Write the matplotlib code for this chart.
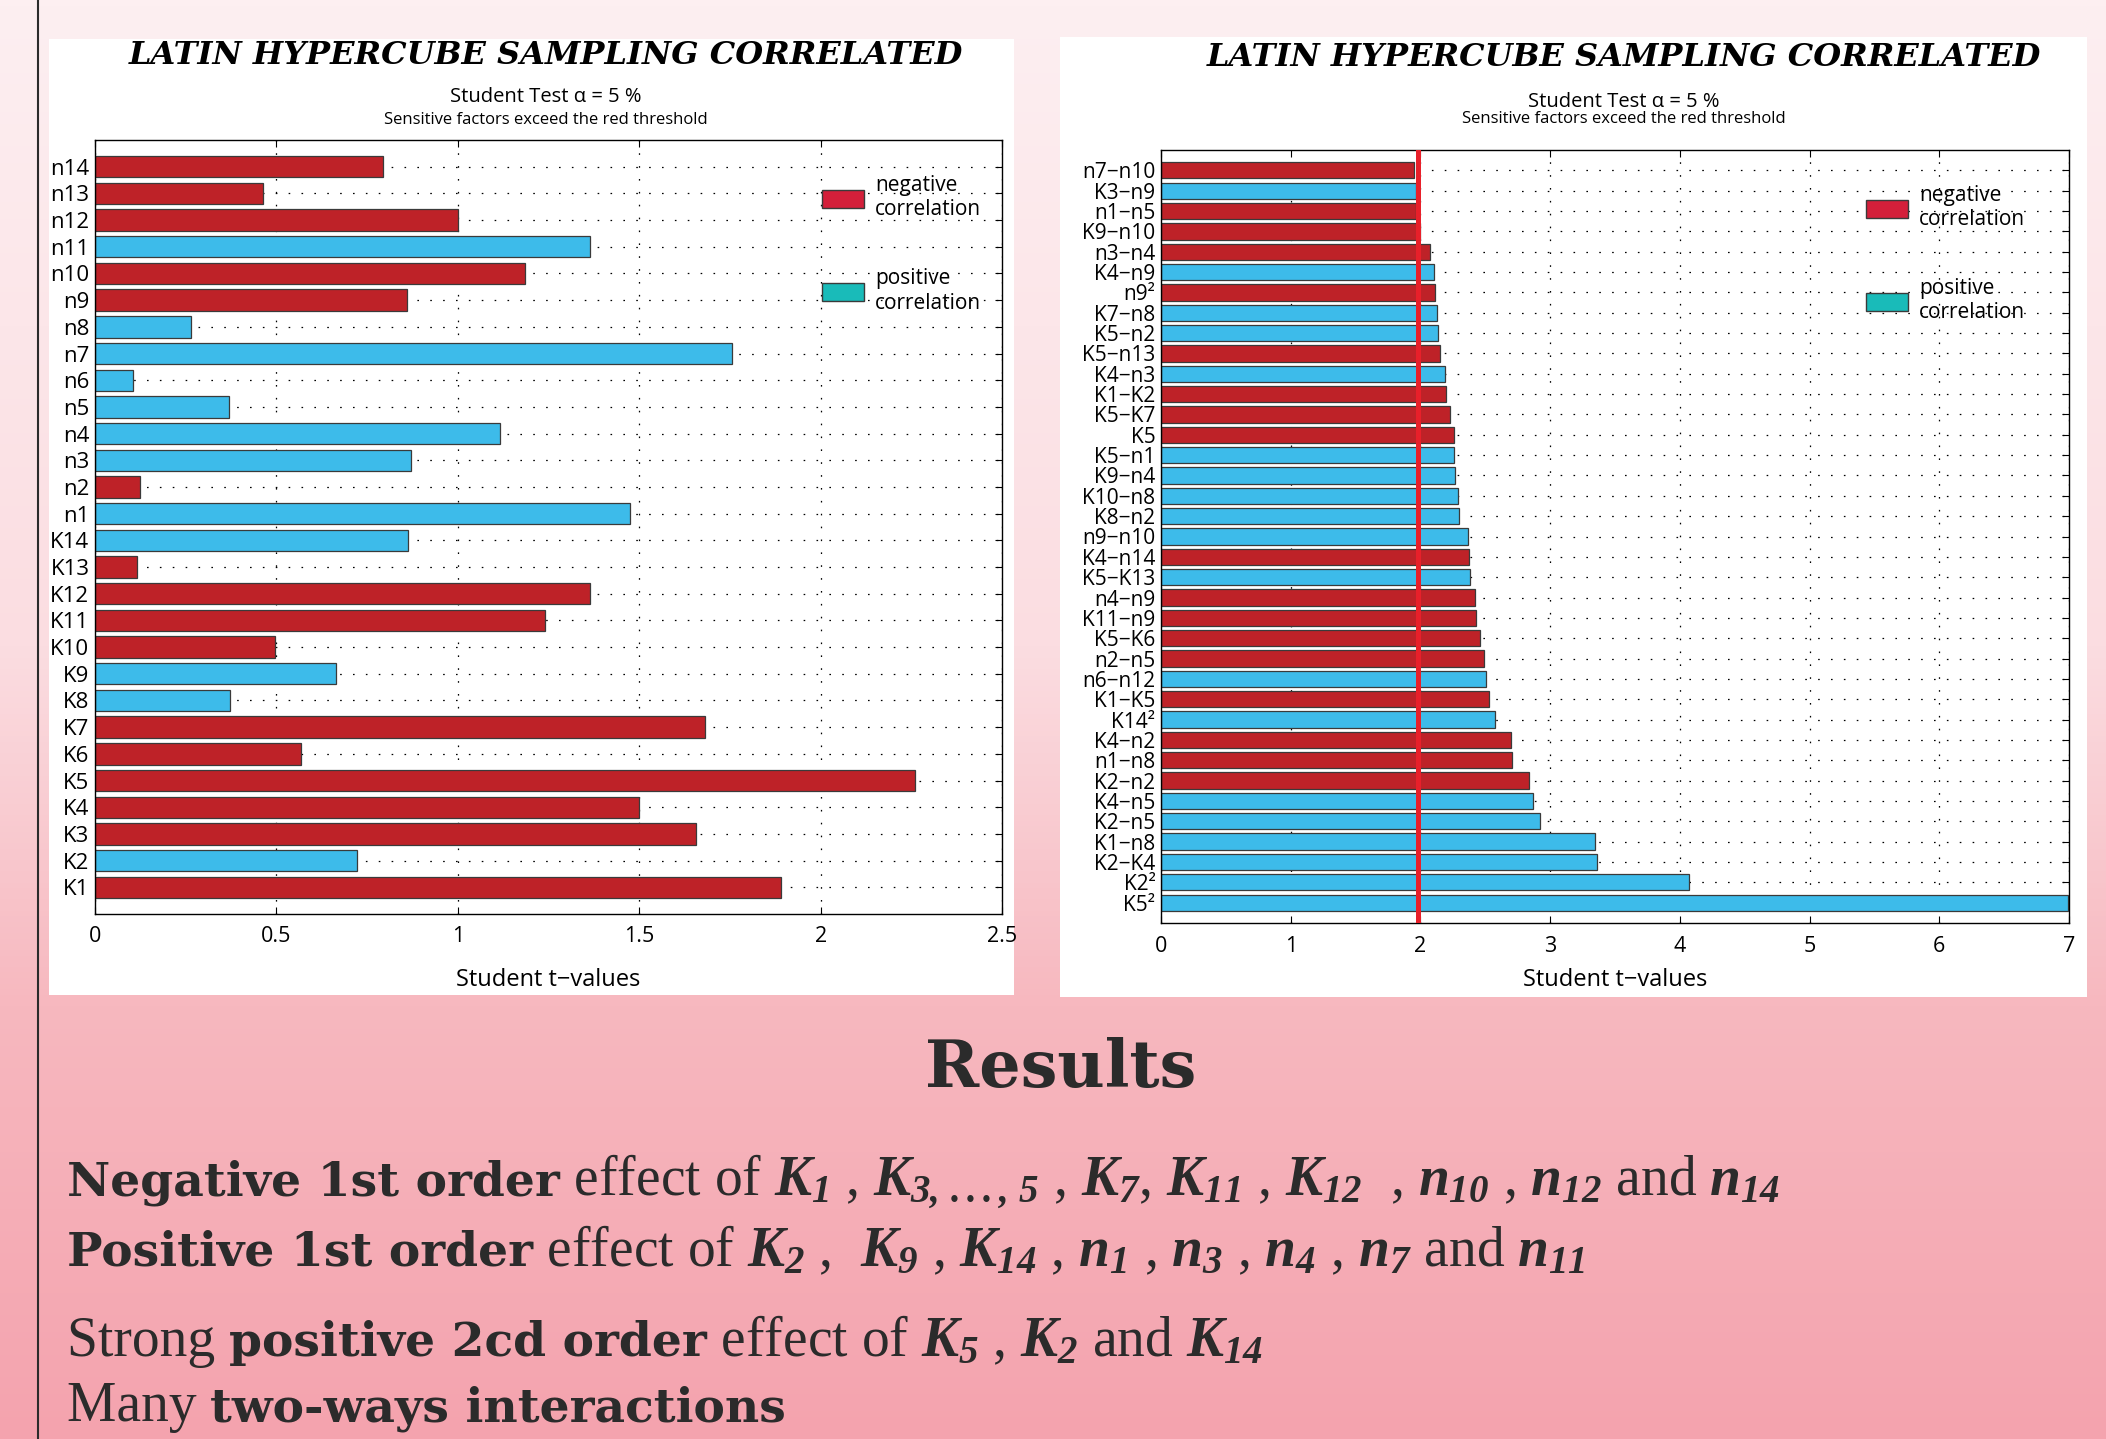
import matplotlib.pyplot as plt
import numpy as np
from matplotlib.patches import Rectangle, Patch
from matplotlib.lines import Line2D
from matplotlib.colors import LinearSegmentedColormap

plt.rcParams['font.family'] = ['Open Sans', 'DejaVu Sans']
plt.rcParams['mathtext.fontset'] = 'custom'
# digits in subscripts come from the rm slot, keep them italic like the letters
plt.rcParams['mathtext.rm'] = 'Liberation Serif:italic:bold'
plt.rcParams['mathtext.it'] = 'Liberation Serif:italic:bold'
plt.rcParams['mathtext.bf'] = 'Liberation Serif:bold'

# first order factors, listed top to bottom
main_labels = ['n14', 'n13', 'n12', 'n11', 'n10', 'n9', 'n8', 'n7', 'n6', 'n5',
               'n4', 'n3', 'n2', 'n1', 'K14', 'K13', 'K12', 'K11', 'K10', 'K9',
               'K8', 'K7', 'K6', 'K5', 'K4', 'K3', 'K2', 'K1']
main_tvalues = [0.793, 0.464, 1.0, 1.364, 1.186, 0.86, 0.264, 1.756, 0.105, 0.368,
                1.115, 0.871, 0.123, 1.474, 0.864, 0.116, 1.364, 1.241, 0.497, 0.664,
                0.371, 1.682, 0.568, 2.26, 1.5, 1.656, 0.723, 1.892]
main_signs = ['neg', 'neg', 'neg', 'pos', 'neg', 'neg', 'pos', 'pos', 'pos', 'pos',
              'pos', 'pos', 'neg', 'pos', 'pos', 'neg', 'neg', 'neg', 'neg', 'pos',
              'pos', 'neg', 'neg', 'neg', 'neg', 'neg', 'pos', 'neg']

# interactions and quadratic terms, listed top to bottom
inter_labels = ['n7\u2212n10', 'K3\u2212n9', 'n1\u2212n5', 'K9\u2212n10', 'n3\u2212n4',
                'K4\u2212n9', 'n9\u00b2', 'K7\u2212n8', 'K5\u2212n2', 'K5\u2212n13',
                'K4\u2212n3', 'K1\u2212K2', 'K5\u2212K7', 'K5', 'K5\u2212n1',
                'K9\u2212n4', 'K10\u2212n8', 'K8\u2212n2', 'n9\u2212n10', 'K4\u2212n14',
                'K5\u2212K13', 'n4\u2212n9', 'K11\u2212n9', 'K5\u2212K6', 'n2\u2212n5',
                'n6\u2212n12', 'K1\u2212K5', 'K14\u00b2', 'K4\u2212n2', 'n1\u2212n8',
                'K2\u2212n2', 'K4\u2212n5', 'K2\u2212n5', 'K1\u2212n8', 'K2\u2212K4',
                'K2\u00b2', 'K5\u00b2']
inter_tvalues = [1.95, 1.964, 1.967, 1.995, 2.077, 2.105, 2.115, 2.128, 2.138, 2.149,
                 2.187, 2.197, 2.226, 2.256, 2.259, 2.267, 2.29, 2.295, 2.364, 2.377,
                 2.382, 2.418, 2.431, 2.462, 2.487, 2.505, 2.531, 2.572, 2.697, 2.705,
                 2.838, 2.864, 2.918, 3.349, 3.364, 4.073, 6.99]
inter_signs = ['neg', 'pos', 'neg', 'neg', 'neg', 'pos', 'neg', 'pos', 'pos', 'neg',
               'pos', 'neg', 'neg', 'neg', 'pos', 'pos', 'pos', 'pos', 'pos', 'neg',
               'pos', 'neg', 'neg', 'neg', 'neg', 'pos', 'neg', 'pos', 'neg', 'neg',
               'neg', 'pos', 'pos', 'pos', 'pos', 'pos', 'pos']

student_threshold = 1.98

bar_colors = {'neg': '#be2228', 'pos': '#3dbbea'}
legend_colors = {'neg': '#d41f3a', 'pos': '#19bbb9'}

W, H = 2106, 1439
fig = plt.figure(figsize=(W / 100, H / 100), dpi=100)

# pink gradient background
bg = fig.add_axes([0, 0, 1, 1], zorder=-10)
pink = LinearSegmentedColormap.from_list(
    'pink', [(0.0, '#fdeff1'), (0.45, '#fbdde1'), (0.7, '#f7b8bf'), (1.0, '#f4a3ae')])
bg.imshow(np.linspace(0, 1, 256).reshape(-1, 1), cmap=pink, aspect='auto',
          extent=[0, 1, 0, 1], origin='upper')
bg.axis('off')

fig.add_artist(Line2D([38 / W, 38 / W], [0, 1], transform=fig.transFigure,
                      color='#2b2b2b', lw=1.5))


def px_box(x0, y0, x1, y1):
    return (x0 / W, 1 - y1 / H, (x1 - x0) / W, (y1 - y0) / H)


for x0, y0, x1, y1 in [(49, 39, 1014, 995), (1060, 37, 2087, 997)]:
    bx, by, bw, bh = px_box(x0, y0, x1, y1)
    fig.add_artist(Rectangle((bx, by), bw, bh, transform=fig.transFigure,
                             facecolor='white', edgecolor='none', zorder=-5))


def draw_panel(rect, labels, values, signs, xmax, xticks, xticklabels,
               legend_anchor, label_size, xlabel_pad, threshold=None):
    ax = fig.add_axes(px_box(*rect))
    n = len(labels)
    ypos = np.arange(n, 0, -1)
    ax.barh(ypos, values, height=0.8, color=[bar_colors[s] for s in signs],
            edgecolor='#3a3a3a', linewidth=0.9, zorder=2)
    if threshold is not None:
        ax.axvline(threshold, color='#e8202a', lw=3.6, zorder=3)
    ax.set_xlim(0, xmax)
    ax.set_ylim(0, n + 1)
    ax.set_yticks(ypos)
    ax.set_yticklabels(labels, fontsize=label_size)
    ax.set_xticks(xticks)
    ax.set_xticklabels(xticklabels, fontsize=15.5)
    ax.tick_params(direction='in', top=True, right=True, length=5, width=0.8,
                   pad=9, colors='black')
    ax.tick_params(axis='y', pad=4)
    ax.grid(True, linestyle=(0, (1.3, 9)), color='black', lw=0.9)
    ax.set_axisbelow(True)
    for sp in ax.spines.values():
        sp.set_linewidth(1.0)
    ax.set_xlabel('Student t\u2212values', fontsize=17, labelpad=xlabel_pad)
    handles = [Patch(facecolor=legend_colors['neg'], edgecolor='#3a3a3a', lw=1.0,
                     label='negative\ncorrelation'),
               Patch(facecolor=legend_colors['pos'], edgecolor='#3a3a3a', lw=1.0,
                     label='positive\ncorrelation')]
    ax.legend(handles=handles, loc='upper left', bbox_to_anchor=legend_anchor,
              frameon=False, fontsize=15, handlelength=2.0, handleheight=0.95,
              labelspacing=2.3, handletextpad=0.55, borderpad=0)
    return ax


ax1 = draw_panel((95, 140, 1002, 914), main_labels, main_tvalues, main_signs,
                 2.5, [0, 0.5, 1, 1.5, 2, 2.5], ['0', '0.5', '1', '1.5', '2', '2.5'],
                 (0.79, 0.968), 16, 15, )
ax2 = draw_panel((1161, 150, 2069, 923), inter_labels, inter_tvalues, inter_signs,
                 7, range(8), [str(i) for i in range(8)],
                 (0.765, 0.968), 15, 8, threshold=student_threshold)

title = 'LATIN HYPERCUBE SAMPLING CORRELATED'
for cx, ty, s1y, s2y in [(546, 55, 97, 120), (1624, 58, 102, 119)]:
    fig.text(cx / W, 1 - ty / H, title, ha='center', va='center',
             family='DejaVu Serif', weight='heavy', style='italic', fontsize=23)
    fig.text(cx / W, 1 - s1y / H, 'Student Test \u03b1 = 5 %', ha='center', va='center',
             fontsize=14.5)
    fig.text(cx / W, 1 - s2y / H, 'Sensitive factors exceed the red threshold',
             ha='center', va='center', fontsize=12)

# results summary
fig.text(1061 / W, 1 - 1069 / H, 'Results', ha='center', va='center',
         family='DejaVu Serif', weight='heavy', fontsize=47, color='#2b2b2b')

regular = dict(family='Liberation Serif', fontsize=40, color='#2b2b2b')
bold = dict(family='DejaVu Serif', weight='bold', fontsize=34, color='#2b2b2b')
renderer = fig.canvas.get_renderer()


def write_line(x_px, y_px, segments):
    # lay pieces of differing fonts side by side along one baseline
    x = x_px / W
    for text, props in segments:
        t = fig.text(x, 1 - y_px / H, text, va='baseline', **props)
        x = t.get_window_extent(renderer=renderer).x1 / W


write_line(67, 1195, [
    ('Negative 1st order', bold),
    (r' effect of $K_{1}$ , $K_{3,\,...,\,5}$ , $K_{7}$, $K_{11}$ , $K_{12}$  , '
     r'$n_{10}$ , $n_{12}$ and $n_{14}$', regular)])
write_line(67, 1266, [
    ('Positive 1st order', bold),
    (r' effect of $K_{2}$ ,  $K_{9}$ , $K_{14}$ , $n_{1}$ , $n_{3}$ , $n_{4}$ , '
     r'$n_{7}$ and $n_{11}$', regular)])
write_line(67, 1356, [
    ('Strong ', regular),
    ('positive 2cd order', bold),
    (r' effect of $K_{5}$ , $K_{2}$ and $K_{14}$', regular)])
write_line(67, 1421, [
    ('Many ', regular),
    ('two-ways interactions', bold)])

fig.savefig('out.png', dpi=100)
